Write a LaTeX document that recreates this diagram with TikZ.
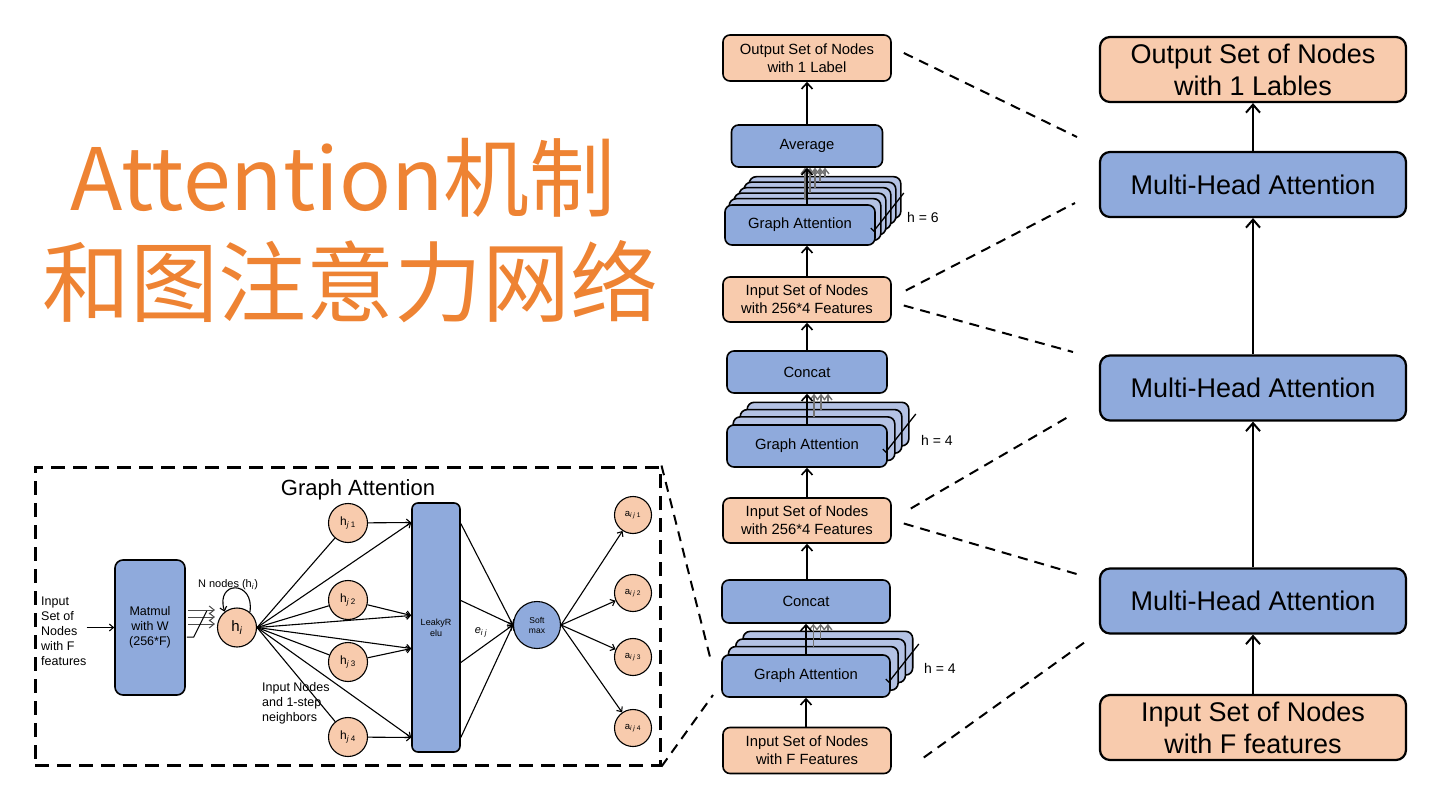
\documentclass[tikz,border=0pt]{standalone}
\usepackage{fontspec}
\setmainfont{Liberation Sans}
\newfontfamily\cjk{Noto Sans CJK SC}
\usetikzlibrary{arrows.meta, positioning, calc, backgrounds}
\definecolor{nodeblue}{RGB}{143,170,220}
\definecolor{layerblue}{RGB}{180,194,228}
\definecolor{nodepeach}{RGB}{248,203,173}
\definecolor{titleorange}{RGB}{238,131,51}
\newcommand{\headStack}[5]
{
	\begin{scope}[on background layer]
		\foreach \k in {#2,...,1}
			\draw[layer] ($(#1.south west)+(\k*#3,-\k*#4)$) rectangle ($(#1.north east)+(\k*#3,-\k*#4)$);
	\end{scope}
	\foreach \k in {1,...,#2}
	{
		\coordinate (hs) at ($(#1.north)+(\k*#3,-\k*#4)$);
		\draw[garr] (hs) -- (hs |- #5.south);
	}
}
\newcommand{\headTick}[1]
{
	\draw[line width=1.3pt] ($(#1.east)+(-5,3)$) -- ++(3,3) -- ++(30,-38)
}

\begin{document}
\begin{tikzpicture}[x=1pt, y=-1pt,
			box/.style={draw=black, line width=1.6pt, rounded corners=7pt, inner sep=0pt,
				align=center, font=\fontsize{14.8}{18}\selectfont},
			peach/.style={box, fill=nodepeach, minimum width=168pt, minimum height=45pt},
			bluebox/.style={box, fill=nodeblue, minimum height=42pt},
			layer/.style={draw=black, line width=1.6pt, rounded corners=7pt, fill=layerblue},
			bigbox/.style={draw=black, line width=2.2pt, rounded corners=10pt, inner sep=0pt,
				minimum width=306pt, minimum height=65pt, align=center,
				font=\fontsize{27}{32}\selectfont},
			circ/.style={circle, draw=black, line width=1.1pt, fill=nodepeach, inner sep=0pt},
			arr/.style={-{Straight Barb[length=6pt,width=11pt]}, line width=1.6pt},
			garr/.style={-{Straight Barb[length=5pt,width=8pt]}, line width=1.4pt, draw=black!55},
			bigarr/.style={-{Straight Barb[length=8pt,width=14pt]}, line width=2pt},
			fan/.style={line width=1.1pt},
			farr/.style={-{Straight Barb[length=4pt,width=7pt]}, line width=1.1pt},
			linkdash/.style={line width=2pt, dash pattern=on 10pt off 7pt},
			gabox/.style={draw=black, line width=3pt, dash pattern=on 14pt off 8pt,
				minimum width=625pt, minimum height=298pt, inner sep=0pt}]
	\useasboundingbox (0,0) rectangle (1440,810);

	\node[text=titleorange, font=\cjk\fontsize{86}{90}\selectfont] at (343,178) (T1){Attention机制};
	\node[text=titleorange, font=\cjk\fontsize{88}{92}\selectfont] at (350,282) (T2){和图注意力网络};

	\node[gabox] at (347.5,616) (GAbox){};
	\node[font=\fontsize{22}{26}\selectfont] at (358,490) (GAtitle){Graph Attention};
	\node[anchor=west, align=left, inner sep=0pt, font=\fontsize{12.5}{15}\selectfont] at (41,631) (inp){Input\\Set of\\Nodes\\with F\\features};
	\node[box, fill=nodeblue, rounded corners=8pt, minimum width=70pt, minimum height=135pt,
		font=\fontsize{12.5}{15}\selectfont] at (150,627.5) (mm){Matmul\\with W\\(256*F)};
	\node[circ, minimum size=39pt, font=\fontsize{15}{17}\selectfont] at (237,627.5) (hi){h\textsubscript{\textit{i}}};
	\node[font=\fontsize{11}{13}\selectfont] at (228,585) (nn){N nodes (h\textsubscript{\textit{i}})};
	\node[circ, minimum size=39pt, font=\fontsize{12}{14}\selectfont] at (348,523) (hj1){h\textsubscript{\textit{j} 1}};
	\node[circ, minimum size=39pt, font=\fontsize{12}{14}\selectfont] at (348,600) (hj2){h\textsubscript{\textit{j} 2}};
	\node[circ, minimum size=39pt, font=\fontsize{12}{14}\selectfont] at (348,662) (hj3){h\textsubscript{\textit{j} 3}};
	\node[circ, minimum size=39pt, font=\fontsize{12}{14}\selectfont] at (348,737) (hj4){h\textsubscript{\textit{j} 4}};
	\node[anchor=north west, align=left, inner sep=0pt, font=\fontsize{12.5}{15}\selectfont] at (262,682) (nb){Input Nodes\\and 1-step\\neighbors};
	\node[box, fill=nodeblue, rounded corners=6pt, minimum width=48pt, minimum height=249pt,
		font=\fontsize{9}{11}\selectfont] at (436,627.5) (lr){LeakyR\\elu};
	\node[font=\fontsize{11}{13}\selectfont] at (481,632) (eij){\textit{e}\textsubscript{\textit{i j}}};
	\node[circle, draw=black, line width=1.1pt, fill=nodeblue, inner sep=0pt, minimum size=47pt,
		align=center, font=\fontsize{8.5}{10}\selectfont] at (537,625) (sm){Soft\\max};
	\node[circ, minimum size=37pt, font=\fontsize{9.5}{11}\selectfont] at (633,515) (a1){a\textsubscript{\textit{i j} 1}};
	\node[circ, minimum size=37pt, font=\fontsize{9.5}{11}\selectfont] at (633,593) (a2){a\textsubscript{\textit{i j} 2}};
	\node[circ, minimum size=37pt, font=\fontsize{9.5}{11}\selectfont] at (633,657) (a3){a\textsubscript{\textit{i j} 3}};
	\node[circ, minimum size=37pt, font=\fontsize{9.5}{11}\selectfont] at (633,728) (a4){a\textsubscript{\textit{i j} 4}};

	\draw[farr] (inp.east |- mm.west) -- (mm.west);
	\foreach \dy in {-17.5,-10.5,-3.5}
		\draw[garr, line width=1pt, draw=black!70] ($(mm.east)+(2,\dy)$) -- ($(hi.west)+(-2,\dy)$);
	\draw[line width=1pt] ($(mm.east)+(1,9.5)$) -- ++(7,0) -- ++(13,-26);
	\draw[farr] (hi.50) .. controls (255,580) and (215,580) .. (hi.128);
	\foreach \n/\dy in {1/-105, 2/-12, 3/21, 4/110}
	{
		\coordinate (lrin\n) at ($(lr.west)+(0,\dy)$);
		\draw[fan] (hi.east) -- (hj\n);
		\draw[farr] (hi.east) -- (lrin\n);
		\draw[farr] (hj\n) -- (lrin\n);
	}
	\foreach \n/\dy in {1/-104, 2/-27, 3/35, 4/110}
	{
		\coordinate (lrout\n) at ($(lr.east)+(0,\dy)$);
		\draw[farr] (lrout\n) -- (sm.west);
		\draw[farr] (sm.east) -- (a\n);
	}

	\node[peach, minimum height=46pt] at (807,58) (OutM){Output Set of Nodes\\with 1 Label};
	\node[bluebox, minimum width=151pt] at (807,146) (Avg){Average};
	\node[bluebox, minimum width=150pt, minimum height=40pt] at (800,225) (GA6){Graph Attention};
	\node[peach] at (807,299.5) (In4b){Input Set of Nodes\\with 256*4 Features};
	\node[bluebox, minimum width=160pt] at (807,372) (Cat2){Concat};
	\node[bluebox, minimum width=160pt] at (807,446) (GA4b){Graph Attention};
	\node[peach] at (807,520.5) (In4a){Input Set of Nodes\\with 256*4 Features};
	\node[bluebox, minimum width=168pt, minimum height=43pt] at (806,601.5) (Cat1){Concat};
	\node[bluebox, minimum width=168pt] at (806,676) (GA4a){Graph Attention};
	\node[peach, minimum height=46pt] at (807,750.5) (InF){Input Set of Nodes\\with F Features};

	\headStack{GA6}{5}{5}{5.5}{Avg};
	\headStack{GA4b}{3}{7}{7.3}{Cat2};
	\headStack{GA4a}{3}{7.3}{7.6}{Cat1};
	\headTick{GA6};
	\headTick{GA4b};
	\headTick{GA4a};
	\node[font=\fontsize{14}{16}\selectfont] at (923,217) (h6){h = 6};
	\node[font=\fontsize{14}{16}\selectfont] at (937,440) (h4b){h = 4};
	\node[font=\fontsize{14}{16}\selectfont] at (940,668) (h4a){h = 4};

	\draw[arr] (Avg.north) -- (OutM.south);
	\draw[arr] (GA6.north -| Avg) -- (Avg.south);
	\draw[arr] (In4b.north) -- (In4b.north |- GA6.south);
	\draw[arr] (Cat2.north) -- (In4b.south);
	\draw[arr] (GA4b.north) -- (Cat2.south);
	\draw[arr] (In4a.north) -- (GA4b.south);
	\draw[arr] (Cat1.north -| In4a) -- (In4a.south);
	\draw[arr] (GA4a.north) -- (Cat1.south);
	\draw[arr] (InF.north -| GA4a) -- (GA4a.south);

	\node[bigbox, fill=nodepeach] at (1253,69.5) (OutR){Output Set of Nodes\\with 1 Lables};
	\node[bigbox, fill=nodeblue] at (1253,184.5) (MHA1){Multi-Head Attention};
	\node[bigbox, fill=nodeblue] at (1253,388) (MHA2){Multi-Head Attention};
	\node[bigbox, fill=nodeblue] at (1253,601) (MHA3){Multi-Head Attention};
	\node[bigbox, fill=nodepeach] at (1253,727.5) (InR){Input Set of Nodes\\with F features};

	\draw[bigarr] (MHA1.north) -- (OutR.south);
	\draw[bigarr] (MHA2.north) -- (MHA1.south);
	\draw[bigarr] (MHA3.north) -- (MHA2.south);
	\draw[bigarr] (InR.north) -- (MHA3.south);

	\coordinate (z1) at (1077,137);
	\coordinate (z2) at (1075,203);
	\coordinate (z3) at (1073,352);
	\coordinate (z4) at (1068,417);
	\coordinate (z5) at (1080,575);
	\coordinate (z6) at (1085,642);
	\coordinate (z7) at (710,657);
	\coordinate (z8) at (713,695);
	\draw[linkdash] ($(OutM.east)+(12,-5)$) -- (z1);
	\draw[linkdash] ($(In4b.east)+(14,-9)$) -- (z2);
	\draw[linkdash] ($(In4b.east)+(12,6)$) -- (z3);
	\draw[linkdash] ($(In4a.east)+(19,-12)$) -- (z4);
	\draw[linkdash] ($(In4a.east)+(12,3)$) -- (z5);
	\draw[linkdash] ($(InF.east)+(32,7)$) -- (z6);
	\draw[linkdash] (GAbox.north east) -- (z7);
	\draw[linkdash] (GAbox.south east) -- (z8);
\end{tikzpicture}
\end{document}
